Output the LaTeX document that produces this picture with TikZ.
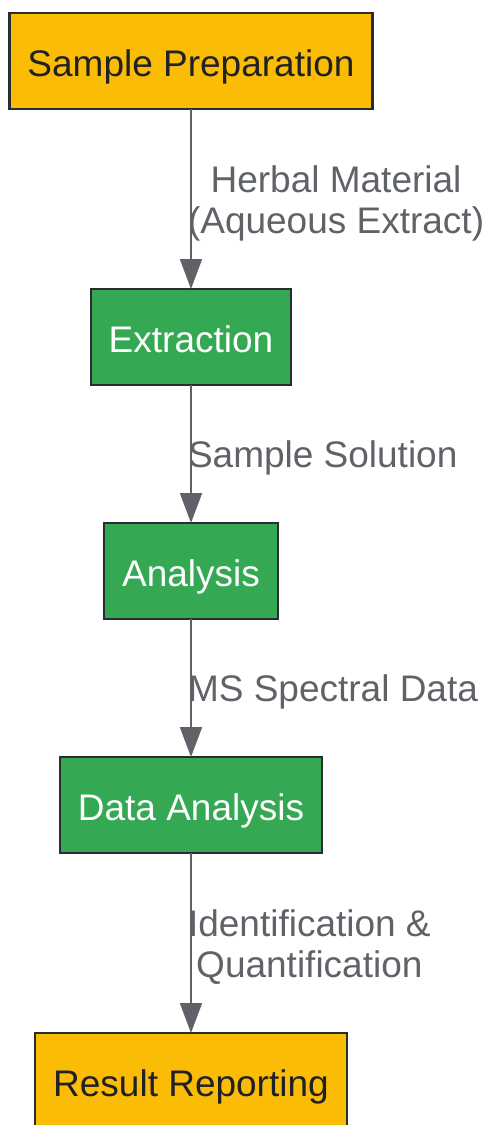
\documentclass[tikz,border=0pt]{standalone}
\usepackage{fontspec}
\setmainfont{Liberation Sans}
\usetikzlibrary{positioning, arrows.meta}

\definecolor{stepyellow}{HTML}{FBBC05}
\definecolor{stepgreen}{HTML}{34A853}
\definecolor{edgegray}{HTML}{5F6368}
\definecolor{darktext}{HTML}{202124}

\begin{document}
\begin{tikzpicture}[
    x=1pt, y=1pt,
    % Define a custom style for the process boxes
    stagebox/.style={
        draw=darktext!95,
        line width=2.2pt,
        rectangle,
        outer sep=0pt,
        minimum height=96pt,
        inner xsep=18pt,
        text height=30pt, text depth=0pt,
        font=\fontsize{37}{41}\selectfont
    },
    yellowbox/.style={stagebox, fill=stepyellow, text=darktext},
    greenbox/.style={stagebox, fill=stepgreen, text=white},
    flow/.style={edgegray, line width=2pt, -{Triangle[length=30pt,width=22pt]}},
    edgelabel/.style={
        midway, anchor=west, inner sep=0pt, xshift=-4pt, yshift=-4pt,
        text=edgegray, align=center,
        font=\fontsize{37}{41}\selectfont
    }
]
\useasboundingbox (0,0) rectangle (486,-1125);

% Define nodes from top to bottom
\node[yellowbox] (prep) at (191,-61) {Sample Preparation};
\node[greenbox, below=180pt of prep] (extr) {Extraction};
\node[greenbox, below=138pt of extr] (anal) {Analysis};
\node[greenbox, below=138pt of anal] (data) {Data Analysis};
\node[yellowbox, below=180pt of data] (report) {Result Reporting};

% Edges with their labels
\draw[flow] (prep) -- (extr) node[edgelabel] {Herbal Material\\(Aqueous Extract)};
\draw[flow] (extr) -- (anal) node[edgelabel] {Sample Solution};
\draw[flow] (anal) -- (data) node[edgelabel] {MS Spectral Data};
\draw[flow] (data) -- (report) node[edgelabel] {Identification \&\\Quantification};

\end{tikzpicture}
\end{document}
